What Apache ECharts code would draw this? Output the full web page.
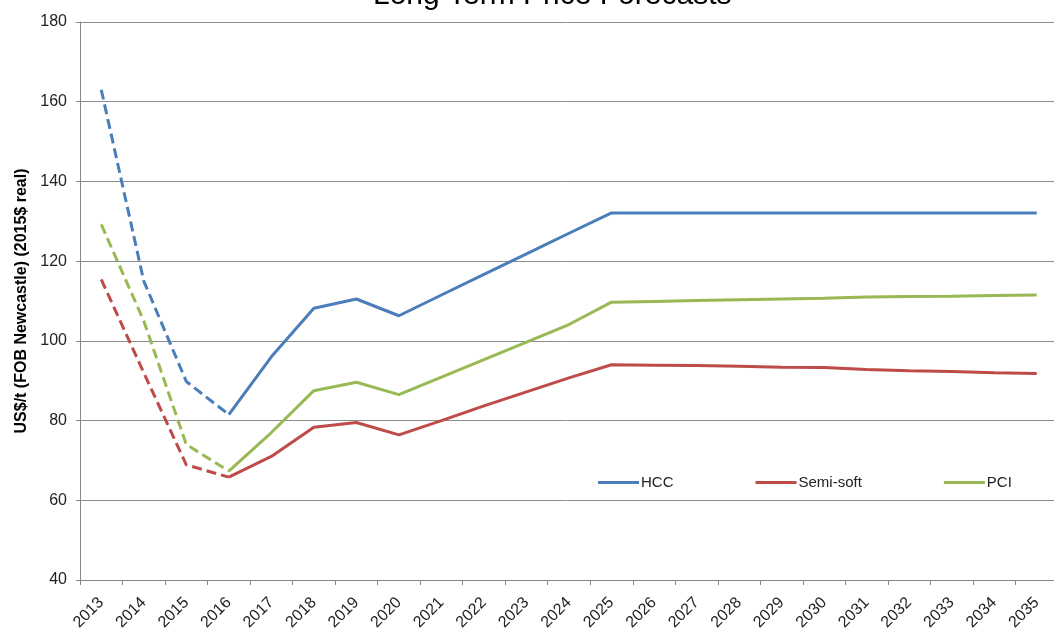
<!DOCTYPE html>
<html lang="en">
<head>
    <meta charset="UTF-8">
    <title>Long Term Price Forecasts</title>
    <script src="https://cdn.jsdelivr.net/npm/echarts@6/dist/echarts.min.js"></script>
    <style>
        html, body { margin: 0; padding: 0; background: #fff; }
        #chart { width: 1054px; height: 628px; }
    </style>
</head>
<body>
<div id="chart"></div>
<script type="text/javascript">
    var years = ['2013', '2014', '2015', '2016', '2017', '2018', '2019', '2020', '2021', '2022', '2023', '2024',
        '2025', '2026', '2027', '2028', '2029', '2030', '2031', '2032', '2033', '2034', '2035'];
    var hcc = [163, 115, 89.8, 81.5, 96, 108.2, 110.5, 106.3, 111.5, 116.7, 121.8, 127,
        132.1, 132.1, 132.1, 132.1, 132.1, 132.1, 132.1, 132.1, 132.1, 132.1, 132.1];
    var semiSoft = [115.4, 92, 68.9, 65.8, 71, 78.3, 79.5, 76.4, 80, 83.7, 87.2, 90.7,
        94.0, 93.9, 93.8, 93.6, 93.4, 93.3, 92.8, 92.5, 92.3, 92.0, 91.8];
    var pci = [129.2, 105, 74, 67.3, 77, 87.5, 89.6, 86.5, 90.9, 95.3, 99.7, 104.1,
        109.7, 109.9, 110.1, 110.3, 110.5, 110.7, 111.0, 111.1, 111.2, 111.4, 111.5];
    // last year of the dashed (estimate) part
    var splitIndex = 3;

    var chartDom = document.getElementById('chart');
    var myChart = echarts.init(chartDom);
    var font = 'Liberation Sans';

    function part(arr, dashed) {
        return arr.map(function (v, i) {
            if (dashed) return i <= splitIndex ? v : null;
            return i >= splitIndex ? v : null;
        });
    }

    function makeSeries(name, arr, color) {
        return [
            {
                name: name,
                type: 'line',
                data: part(arr, false),
                symbol: 'none',
                lineStyle: { color: color, width: 3 },
                itemStyle: { color: color }
            },
            {
                name: name + ' (est)',
                type: 'line',
                data: part(arr, true),
                symbol: 'none',
                lineStyle: { color: color, width: 3, type: [10, 5] },
                itemStyle: { color: color }
            }
        ];
    }

    var option = {
        animation: false,
        title: {
            text: 'Long Term Price Forecasts',
            left: 368,
            top: -24,
            textStyle: { fontFamily: font, fontSize: 30, fontWeight: 'normal', color: '#000' }
        },
        legend: {
            data: ['HCC', 'Semi-soft', 'PCI'],
            left: 593,
            top: 470,
            icon: 'rect',
            itemWidth: 41,
            itemHeight: 3,
            itemGap: 82,
            textStyle: { fontFamily: font, fontSize: 15, color: '#222', padding: [0, 0, 0, -3] }
        },
        grid: { left: 80, right: -4, top: 22, bottom: 48, outerBoundsMode: 'none' },
        xAxis: {
            type: 'category',
            data: years,
            boundaryGap: true,
            axisLine: { lineStyle: { color: '#868686', width: 1 } },
            axisTick: { show: true, length: 5, lineStyle: { color: '#868686' } },
            axisLabel: { rotate: 45, margin: 20, fontFamily: font, fontSize: 16, color: '#222', interval: 0 }
        },
        yAxis: {
            type: 'value',
            min: 40,
            max: 180,
            interval: 20,
            name: 'US$/t (FOB Newcastle) (2015$ real)',
            nameLocation: 'middle',
            nameGap: 50,
            nameTextStyle: { fontFamily: font, fontSize: 16, fontWeight: 'bold', color: '#000' },
            axisLine: { show: true, lineStyle: { color: '#868686', width: 1 } },
            axisTick: { show: true, length: 4, lineStyle: { color: '#868686' } },
            axisLabel: { fontFamily: font, fontSize: 16, color: '#222', margin: 13 },
            splitLine: { lineStyle: { color: '#8c8c8c', width: 1 } }
        },
        series: []
            .concat(makeSeries('HCC', hcc, '#4a7ebb'))
            .concat(makeSeries('Semi-soft', semiSoft, '#be4b48'))
            .concat(makeSeries('PCI', pci, '#98b954'))
    };

    option && myChart.setOption(option);
</script>
</body>
</html>
